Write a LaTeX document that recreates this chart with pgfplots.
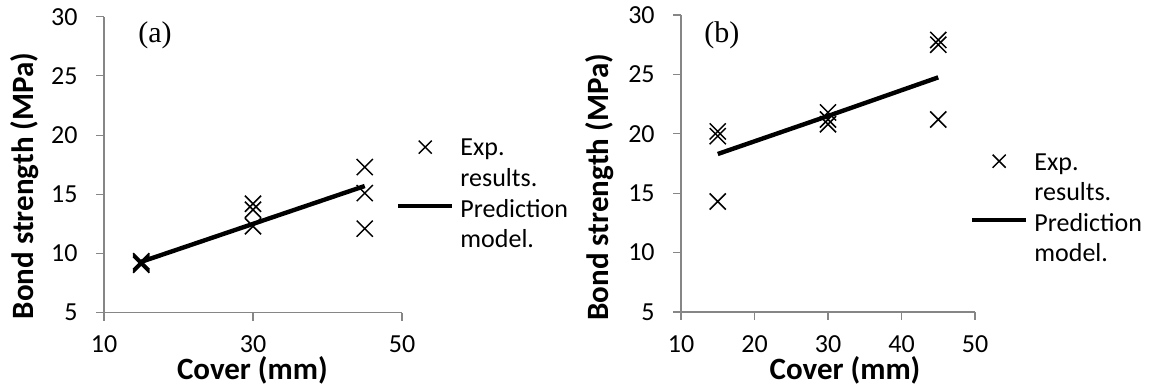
\documentclass[border=0pt]{standalone}
\usepackage{pgfplots}
\pgfplotsset{compat=1.18}
\usepackage{fontspec}
\setmainfont{Carlito}
\newfontfamily\panelfont{Liberation Serif}
\definecolor{axisgray}{RGB}{134,134,134}

\pgfplotsset{
  bondaxis/.style={
    scale only axis,
    anchor=south west,
    xmin=10, xmax=50, ymin=5, ymax=30,
    ytick={5,10,...,30},
    axis lines=left,
    axis line style={-, draw=axisgray, line width=0.6pt},
    tick align=outside,
    major tick length=4pt,
    every tick/.style={draw=axisgray, line width=0.6pt},
    tick label style={font=\fontsize{13}{15}\selectfont,
      /pgf/number format/assume math mode=true},
    yticklabel style={anchor=east, inner sep=0pt, xshift=-9pt},
    xticklabel style={anchor=north, inner sep=0pt, yshift=-7.5pt},
    clip=false,
    xlabel={Cover (mm)},
    ylabel={Bond strength (MPa)},
    label style={font=\bfseries\fontsize{15.5}{18}\selectfont, inner sep=0pt},
    legend cell align=left,
    legend style={draw=none, fill=none, inner sep=0pt, outer sep=0pt,
      anchor=north west, column sep=3pt, row sep=3.1pt,
      nodes={inner sep=0pt, text height=9.2pt, text depth=3pt,
        font=\fontsize{13}{15}\selectfont}},
  },
  expstyle/.style={only marks, mark=x, mark size=5.7pt, black,
    mark options={line width=0.75pt},
    legend image code/.code={\draw[##1, mark size=4.6pt]
      plot coordinates {(13.5pt,1.3pt)};}},
  predstyle/.style={black, line width=2.2pt, no marks,
    legend image code/.code={\draw[##1] (0pt,2.4pt) -- (27pt,2.4pt);}},
}

\begin{document}
\begin{tikzpicture}
% ---------- (a) ----------
\begin{axis}[bondaxis,
  at={(52pt,39.15pt)}, width=149pt, height=148pt,
  xtick={10,30,50},
  xlabel style={at={(axis description cs:0.498,-0.227)}, anchor=base},
  ylabel style={at={(axis description cs:-0.267,0.428)}, anchor=center},
  legend style={at={(axis description cs:0.980,0.592)}},
]
\addplot[expstyle]
  coordinates {(15,9.05) (15,9.15) (15,9.25) (15,9.35)
               (30,14.2) (30,13.7) (30,12.3)
               (45,17.3) (45,15.1) (45,12.1)};
\addlegendentry{Exp.}
\addlegendimage{empty legend}
\addlegendentry{results.}
\addplot[predstyle]
  coordinates {(15,9.3) (30,12.5) (45,15.7)};
\addlegendentry{Prediction}
\addlegendimage{empty legend}
\addlegendentry{model.}
\node[inner sep=0pt] at (axis description cs:0.171,0.938)
  {\panelfont\fontsize{15}{18}\selectfont (a)};
\end{axis}

% ---------- (b) ----------
\begin{axis}[bondaxis,
  at={(340.5pt,39.5pt)}, width=147pt, height=148.5pt,
  xtick={10,20,...,50},
  xlabel style={at={(axis description cs:0.558,-0.2256)}, anchor=base},
  ylabel style={at={(axis description cs:-0.276,0.42)}, anchor=center},
  legend style={at={(axis description cs:0.983,0.540)}},
]
\addplot[expstyle]
  coordinates {(15,20.2) (15,19.8) (15,14.3)
               (30,21.8) (30,21.2) (30,20.8)
               (45,27.9) (45,27.5) (45,21.2)};
\addlegendentry{Exp.}
\addlegendimage{empty legend}
\addlegendentry{results.}
\addplot[predstyle]
  coordinates {(15,18.3) (30,21.5) (45,24.75)};
\addlegendentry{Prediction}
\addlegendimage{empty legend}
\addlegendentry{model.}
\node[inner sep=0pt] at (axis description cs:0.139,0.933)
  {\panelfont\fontsize{15}{18}\selectfont (b)};
\end{axis}

\pgfresetboundingbox
\useasboundingbox (0,0) rectangle (574.5pt,195.5pt);
\end{tikzpicture}
\end{document}
